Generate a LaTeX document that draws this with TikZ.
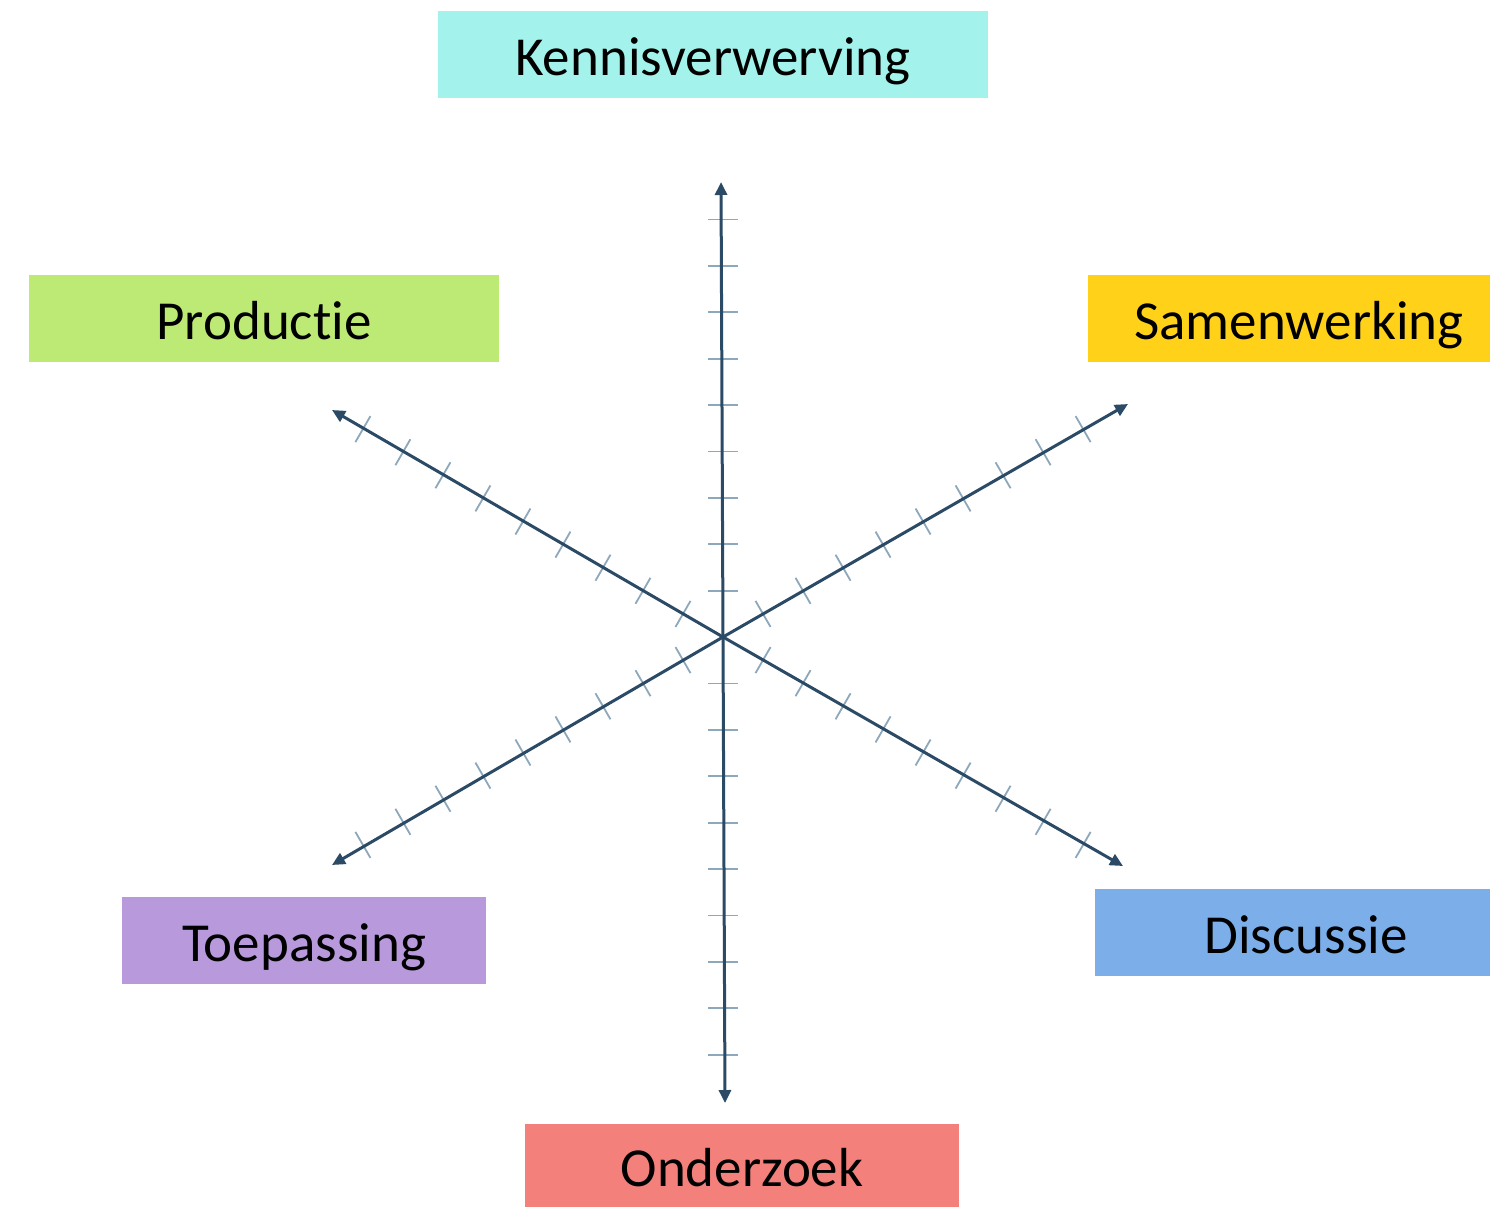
\documentclass[tikz,border=0pt]{standalone}
\usepackage{fontspec}
\setmainfont{Carlito}[Ligatures=NoCommon]
\usetikzlibrary{arrows.meta,calc}
\definecolor{axis}{HTML}{2B4A66}
\definecolor{tick}{HTML}{8DA7BB}
\definecolor{cKenn}{HTML}{A3F3EC}
\definecolor{cProd}{HTML}{BDE975}
\definecolor{cSamen}{HTML}{FFD219}
\definecolor{cToep}{HTML}{B899DB}
\definecolor{cDisc}{HTML}{7CAFE9}
\definecolor{cOnder}{HTML}{F4807C}
\tikzset{
  box/.style={rectangle, inner sep=0pt, text height=50pt, text depth=8pt,
    font=\fontsize{55}{60}\selectfont, text=black},
  axisline/.style={draw=axis, line width=3pt, -{Triangle[length=13pt,width=12pt]}},
  tickline/.style={draw=tick, line width=1.8pt},
}
\begin{document}
\begin{tikzpicture}[x=1pt,y=-1pt]
\useasboundingbox (0,0) rectangle (1490,1207);
% boxes
\node[box, fill=cKenn, minimum width=550pt, minimum height=87pt] (kenn) at (713,54.5) {Kennisverwerving};
\node[box, fill=cProd, minimum width=470pt, minimum height=87pt] (prod) at (264,318.5) {Productie};
\node[box, fill=cSamen, minimum width=402pt, minimum height=87pt] (samen) at (1289,318.5) {\hspace*{20pt}Samenwerking};
\node[box, fill=cToep, minimum width=364pt, minimum height=87pt] (toep) at (304,940.5) {Toepassing};
\node[box, fill=cDisc, minimum width=395pt, minimum height=87pt] (disc) at (1292.5,932.5) {\hspace*{27pt}Discussie};
\node[box, fill=cOnder, minimum width=434pt, minimum height=83pt] (onder) at (742,1165.5) {Onderzoek};
% axes
\coordinate (c) at (723,637);
\coordinate (tN) at (721,182);
\coordinate (tS) at (725,1103);
\coordinate (tNW) at (332,410);
\coordinate (tNE) at (1128,404);
\coordinate (tSW) at (332,865);
\coordinate (tSE) at (1123,866);
% ticks
\foreach \k in {1,...,9}{
  \draw[tickline] ($(c)+(-15,-\k*46.4)$) -- ($(c)+(15,-\k*46.4)$);
  \draw[tickline] ($(c)+(-15,\k*46.4)$) -- ($(c)+(15,\k*46.4)$);
  \foreach \a in {30,150,210,330}{
    \draw[tickline] ($(c)+(\a:\k*46.2)+(\a+90:15)$) -- ($(c)+(\a:\k*46.2)+(\a-90:15)$);
  }
}
\foreach \t in {tN,tS,tNW,tNE,tSW,tSE}{
  \draw[axisline] (c) -- (\t);
}
\end{tikzpicture}
\end{document}
